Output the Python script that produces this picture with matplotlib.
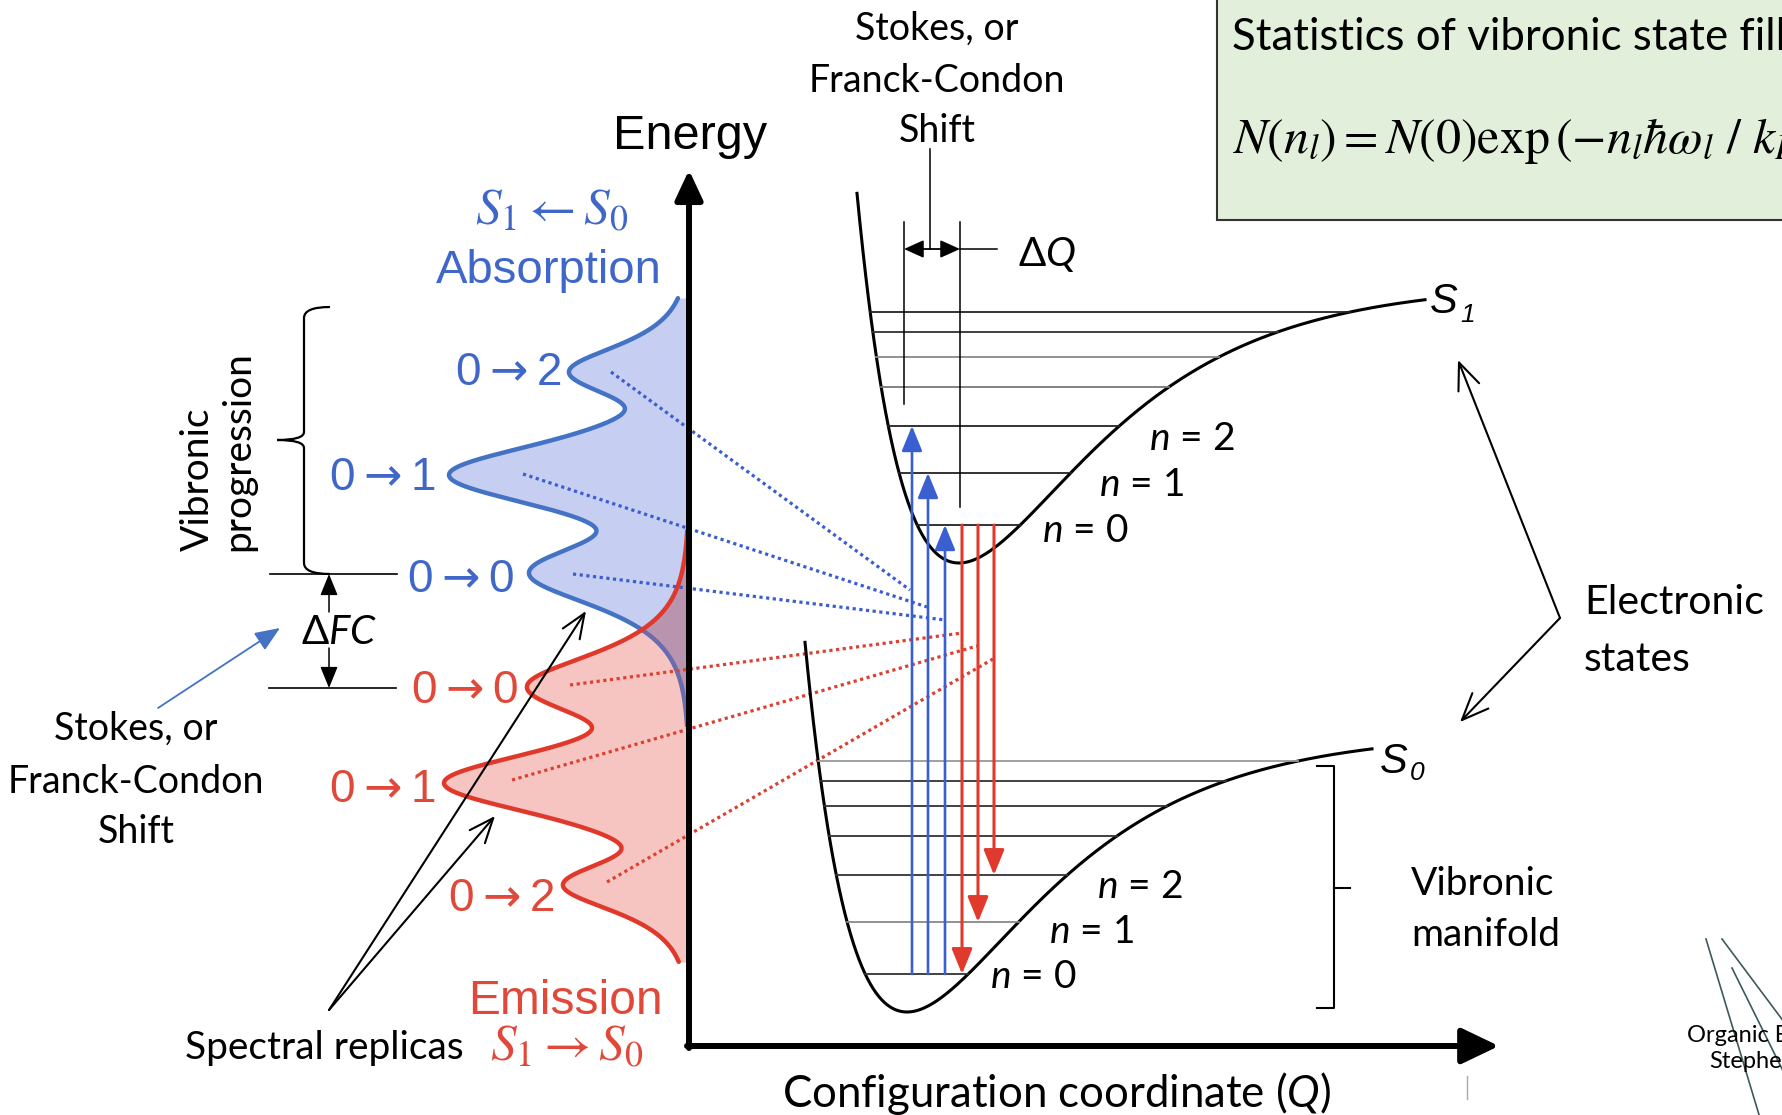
import numpy as np
import matplotlib.pyplot as plt
from matplotlib.path import Path
from matplotlib.patches import PathPatch, Rectangle

plt.rcParams['mathtext.fontset'] = 'custom'
plt.rcParams['mathtext.rm'] = 'Lato'
plt.rcParams['mathtext.it'] = 'Lato:italic'
plt.rcParams['mathtext.bf'] = 'Lato:bold'

CAL = ['Lato', 'DejaVu Sans']
ARI = ['Liberation Sans', 'DejaVu Sans']

BLUE = '#4472c4'
BLUE_T = '#3f66c9'
RED = '#e0392b'
RED_T = '#e0483a'

# ---- data, in pixels of the 1783 x 1115 canvas (y grows downwards) ----
axis_x = 689
axis_y = 1046

# absorption / emission bands: peak position, height from axis, width
abs_y = [573, 475, 372]
abs_amp = [160, 240, 120]
abs_w = [30, 30, 24]
abs_lim = [298, 725]
abs_labels = ['0$\\rightarrow$0', '0$\\rightarrow$1', '0$\\rightarrow$2']
abs_lab_x = [461, 383, 508]
abs_lab_y = [592, 490, 385]

emi_y = [687, 783, 885]
emi_amp = [162, 245, 126]
emi_w = [30, 30, 24]
emi_lim = [530, 962]
emi_labels = ['0$\\rightarrow$0', '0$\\rightarrow$1', '0$\\rightarrow$2']
emi_lab_x = [465, 383, 501]
emi_lab_y = [703, 802, 911]

# potential wells (Morse type): minimum x, minimum y, depth, steepness, x range
s1_min = [959, 563]
s0_min = [907, 1012]
well_depth = 280
well_a = 0.0075
s1_range = [857, 1425]
s0_range = [805, 1372]
level_h = [38, 90, 137, 176, 206, 231, 251]
s1_level_col = ['#222', '#222', '#222', '#777', '#888', '#333', '#222']
s0_level_col = ['#333', '#888', '#333', '#333', '#333', '#333', '#999']

# vertical transitions
abs_tr_x = [912, 928, 945]
abs_tr_n = [2, 1, 0]
emi_tr_x = [962, 978, 994]
emi_tr_n = [0, 1, 2]

# dotted links spectrum -> transition
abs_dots = [[(611, 372), (910, 590)], [(523, 474), (927, 607)], [(573, 574), (945, 620)]]
emi_dots = [[(570, 685), (962, 633)], [(512, 780), (977, 646)], [(607, 882), (993, 659)]]


def band(y, centers, amps, widths, p=3):
    tot = np.zeros_like(y)
    for c, a, w in zip(centers, amps, widths):
        tot += (a / np.cosh((y - c) / w)) ** p
    return tot ** (1.0 / p)


def morse(x, mn):
    return mn[1] - well_depth * (1 - np.exp(-well_a * (x - mn[0]))) ** 2


def level_ends(h, mn):
    s = np.sqrt(h / well_depth)
    return mn[0] - np.log(1 + s) / well_a, mn[0] - np.log(1 - s) / well_a


fig = plt.figure(figsize=(17.83, 11.15), dpi=100)
ax = fig.add_axes([0, 0, 1, 1])
ax.set_xlim(0, 1783)
ax.set_ylim(1115, 0)
ax.axis('off')


def arrow(p0, p1, style='-|>', color='k', lw=1.3, ms=14, **kw):
    ax.annotate('', xy=p1, xytext=p0,
                arrowprops=dict(arrowstyle=style, color=color, lw=lw, shrinkA=0,
                                shrinkB=0, mutation_scale=ms, **kw))


# ---- spectra ----
yy = np.linspace(290, 970, 1500)
A = np.where((yy >= abs_lim[0]) & (yy <= abs_lim[1]), band(yy, abs_y, abs_amp, abs_w), np.nan)
E = np.where((yy >= emi_lim[0]) & (yy <= emi_lim[1]), band(yy, emi_y, emi_amp, emi_w), np.nan)
ax.fill_betweenx(yy, axis_x - np.nan_to_num(A), axis_x, color='#c6cef1', lw=0)
ax.fill_betweenx(yy, axis_x - np.nan_to_num(E), axis_x, color='#f6c5c1', lw=0)
ov = np.minimum(np.nan_to_num(A), np.nan_to_num(E))
ax.fill_betweenx(yy, axis_x - ov, axis_x, where=ov > 0, color='#b994ae', lw=0)

inside = np.nan_to_num(E) > np.nan_to_num(A)
a_out = np.where(~inside, A, np.nan)
a_in = np.where(inside, A, np.nan)
ax.plot(axis_x - a_out, yy, color=BLUE, lw=3.2, solid_capstyle='round')
ax.plot(axis_x - a_in, yy, color='#6a6cae', lw=3.2)
ax.plot(axis_x - E, yy, color=RED, lw=3.2, solid_capstyle='round')

for lab, x, y in zip(abs_labels, abs_lab_x, abs_lab_y):
    ax.text(x, y, lab, family=ARI, fontsize=33, color=BLUE_T, ha='center', va='baseline',
            math_fontfamily='dejavusans')
for lab, x, y in zip(emi_labels, emi_lab_x, emi_lab_y):
    ax.text(x, y, lab, family=ARI, fontsize=33, color=RED_T, ha='center', va='baseline',
            math_fontfamily='dejavusans')

# dotted links
for (p0, p1) in abs_dots:
    ax.plot([p0[0], p1[0]], [p0[1], p1[1]], color='#3a5ecf', lw=2.3, ls=(0, (1, 1.1)))
for (p0, p1) in emi_dots:
    ax.plot([p0[0], p1[0]], [p0[1], p1[1]], color='#dd4030', lw=2.3, ls=(0, (1, 1.1)))

# ---- axes ----
arrow((axis_x, axis_y + 2), (axis_x, 170), lw=4.3, ms=20,
      style='-|>,head_length=0.9,head_width=0.42')
arrow((axis_x - 2, axis_y), (1499, axis_y), lw=4.3, ms=20,
      style='-|>,head_length=1.15,head_width=0.55')
ax.text(690, 149, 'Energy', family=ARI, fontsize=35, ha='center', va='baseline')
ax.text(1057, 1107, 'Configuration coordinate ($Q$)', family=CAL, fontsize=31.5,
        ha='center', va='baseline')
ax.plot([1467, 1467], [1076, 1099], color='#aaaaaa', lw=1)

# ---- potential wells ----
for mn, rng, cols in [(s1_min, s1_range, s1_level_col), (s0_min, s0_range, s0_level_col)]:
    xs = np.linspace(rng[0], rng[1], 400)
    ax.plot(xs, morse(xs, mn), color='k', lw=2.2)
    for h, c in zip(level_h, cols):
        xl, xr = level_ends(h, mn)
        ax.plot([xl, xr], [mn[1] - h, mn[1] - h], color=c, lw=1.3)

# transitions
for x, n in zip(abs_tr_x, abs_tr_n):
    arrow((x, s0_min[1] - level_h[0]), (x, s1_min[1] - level_h[n]), color='#3a5fd0',
          lw=1.9, ms=14, style='-|>,head_length=1.1,head_width=0.45')
for x, n in zip(emi_tr_x, emi_tr_n):
    arrow((x, s1_min[1] - level_h[0]), (x, s0_min[1] - level_h[n]), color='#df3a2c',
          lw=2.2, ms=14, style='-|>,head_length=1.1,head_width=0.45')

# n labels
for xs_, ys_, labs in [([1042, 1099, 1149], [542, 496, 450], ['0', '1', '2']),
                       ([990, 1049, 1097], [988, 943, 898], ['0', '1', '2'])]:
    for x, y, l in zip(xs_, ys_, labs):
        ax.text(x, y, '$n$ = ' + l, family=CAL, fontsize=28, ha='left', va='baseline')

# state labels
ax.text(1430, 313, 'S', family=ARI, style='italic', fontsize=30, va='baseline')
ax.text(1460, 322, '1', family=ARI, style='italic', fontsize=19, va='baseline')
ax.text(1380, 773, 'S', family=ARI, style='italic', fontsize=30, va='baseline')
ax.text(1410, 780, '0', family=ARI, style='italic', fontsize=19, va='baseline')

# Delta Q marker
ax.plot([904, 904], [222, 404], color='k', lw=1.1)
ax.plot([960, 960], [222, 507], color='k', lw=1.1)
ax.plot([930, 930], [149, 249], color='k', lw=1.1)
ax.plot([960, 997], [249, 249], color='k', lw=1.1)
arrow((930, 249), (904, 249), ms=12, style='-|>,head_length=1.0,head_width=0.45')
arrow((930, 249), (960, 249), ms=12, style='-|>,head_length=1.0,head_width=0.45')
ax.text(1018, 266, 'Δ$Q$', family=CAL, fontsize=29, va='baseline')
for t, y in zip(['Stokes, or', 'Franck-Condon', 'Shift'], [40, 92, 142]):
    ax.text(937, y, t, family=CAL, fontsize=27, ha='center', va='baseline')

# formula box
ax.add_patch(Rectangle((1217, -5), 620, 225, facecolor='#e2efda', edgecolor='#333333', lw=1.5))
ax.text(1232, 50, 'Statistics of vibronic state filling', family=CAL, fontsize=31.5, va='baseline')
ax.text(1232, 153, r'$N\left(n_l\right)=N\left(0\right)\exp\left(-n_l\hbar\omega_l\ /\ k_BT\right)$',
        fontsize=36, math_fontfamily='stix', va='baseline')

# electronic states arrows
arrow((1560, 618), (1458, 360), style='->,head_length=1.2,head_width=0.5', lw=1.5, ms=16)
arrow((1560, 618), (1460, 722), style='->,head_length=1.2,head_width=0.5', lw=1.5, ms=16)
ax.text(1584, 614, 'Electronic', family=CAL, fontsize=29.5, va='baseline')
ax.text(1584, 671, 'states', family=CAL, fontsize=29.5, va='baseline')

# vibronic manifold bracket
ax.plot([1317, 1334, 1334, 1317], [766, 766, 1008, 1008], color='k', lw=1.5)
ax.plot([1334, 1350], [888, 888], color='k', lw=1.5)
ax.text(1411, 895, 'Vibronic', family=CAL, fontsize=28, va='baseline')
ax.text(1411, 946, 'manifold', family=CAL, fontsize=28, va='baseline')

# ---- left annotations ----
ax.text(552, 225, r'$S_1 \leftarrow S_0$', fontsize=37, math_fontfamily='stix',
        color=BLUE_T, ha='center', va='baseline')
ax.text(549, 283, 'Absorption', family=ARI, fontsize=34, color=BLUE_T, ha='center', va='baseline')
ax.text(565, 1014, 'Emission', family=ARI, fontsize=34.5, color=RED_T, ha='center', va='baseline')
ax.text(567, 1061, r'$S_1 \rightarrow S_0$', fontsize=37, math_fontfamily='stix',
        color=RED_T, ha='center', va='baseline')
ax.text(185, 1059, 'Spectral replicas', family=CAL, fontsize=28, va='baseline')
arrow((329, 1010), (586, 611), style='->,head_length=1.1,head_width=0.45', lw=1.5, ms=16)
arrow((329, 1010), (495, 816), style='->,head_length=1.1,head_width=0.45', lw=1.5, ms=16)

# vibronic progression brace
brace = Path([(330, 307), (304, 307), (304, 318), (304, 432), (304, 440), (277, 440),
              (304, 440), (304, 448), (304, 563), (304, 574), (330, 574)],
             [Path.MOVETO, Path.CURVE3, Path.CURVE3, Path.LINETO, Path.CURVE3, Path.CURVE3,
              Path.CURVE3, Path.CURVE3, Path.LINETO, Path.CURVE3, Path.CURVE3])
ax.add_patch(PathPatch(brace, facecolor='none', edgecolor='k', lw=1.6))
ax.text(218, 451, 'Vibronic\nprogression', family=CAL, fontsize=28, rotation=90,
        ha='center', va='center', multialignment='left', linespacing=1.15)

# Stokes shift marker
ax.plot([270, 397], [574, 574], color='k', lw=1.2)
ax.plot([269, 396], [688, 688], color='k', lw=1.2)
arrow((329, 612), (329, 574), ms=12, style='-|>,head_length=1.1,head_width=0.45', lw=1.1)
arrow((329, 648), (329, 688), ms=12, style='-|>,head_length=1.1,head_width=0.45', lw=1.1)
ax.text(339, 644, 'Δ$FC$', family=CAL, fontsize=29, ha='center', va='baseline')
arrow((158, 708), (280, 628), color=BLUE, ms=14, style='-|>,head_length=1.1,head_width=0.45', lw=1.3)
for t, y in zip(['Stokes, or', 'Franck-Condon', 'Shift'], [740, 793, 843]):
    ax.text(136, y, t, family=CAL, fontsize=27, ha='center', va='baseline')

# corner logo
for (p0, p1) in [((1706, 939), (1760, 1118)), ((1722, 939), (1790, 1030)), ((1732, 968), (1790, 1085))]:
    ax.plot([p0[0], p1[0]], [p0[1], p1[1]], color='#3d5a5a', lw=1.2)
ax.text(1687, 1042, 'Organic E', family=CAL, fontsize=17, va='baseline')
ax.text(1709, 1068, 'Stephen', family=CAL, fontsize=17, va='baseline')

fig.savefig('out.png', dpi=100)
